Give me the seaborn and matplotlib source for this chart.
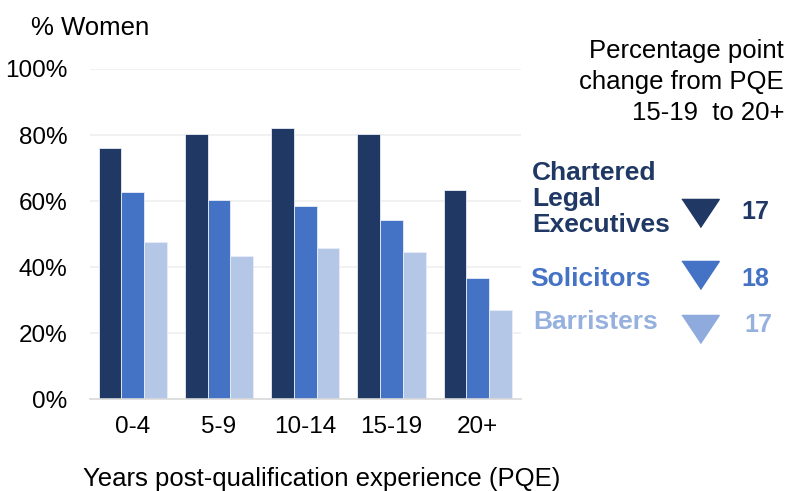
import matplotlib
matplotlib.use("Agg")
import matplotlib.pyplot as plt
import seaborn as sns
import pandas as pd

# values (% women)
pqe_bands = ["0-4", "5-9", "10-14", "15-19", "20+"]
professions = ["Chartered Legal Executives", "Solicitors", "Barristers"]
cilex_pct = [76.2, 80.4, 82.2, 80.4, 63.5]
solicitors_pct = [62.9, 60.4, 58.6, 54.4, 36.8]
barristers_pct = [47.7, 43.5, 45.9, 44.7, 27.1]
pp_change = [17, 18, 17]

bar_colours = ["#1F3864", "#4472C4", "#B4C7E7"]
marker_colours = ["#1F3864", "#4472C4", "#8FAADC"]
label_colours = ["#1F3864", "#4472C4", "#97B1DE"]

rows = []
for prof, vals in zip(professions, [cilex_pct, solicitors_pct, barristers_pct]):
    for band, v in zip(pqe_bands, vals):
        rows.append({"pqe": band, "profession": prof, "pct": v})
df = pd.DataFrame(rows)

sns.set_style("white")
plt.rcParams["font.family"] = ["Liberation Sans", "DejaVu Sans"]
plt.rcParams["text.color"] = "black"

fig = plt.figure(figsize=(7.91, 4.91), dpi=100)
ax = fig.add_axes([0.1134, 0.1868, 0.545, 0.6727])

sns.barplot(data=df, x="pqe", y="pct", hue="profession", hue_order=professions,
            order=pqe_bands, palette=bar_colours, saturation=1, width=0.79, ax=ax,
            edgecolor="#E8EDF7", linewidth=0.6, legend=False)

ax.set_ylim(0, 100)
ax.set_xlim(-0.5, 4.5)
ax.set_yticks([0, 20, 40, 60, 80, 100])
ax.set_yticklabels([f"{t}%" for t in [0, 20, 40, 60, 80, 100]])
ax.yaxis.grid(True, color="#EFEFEF", linewidth=1.2)
ax.set_axisbelow(True)
for s in ["top", "right", "left"]:
    ax.spines[s].set_visible(False)
ax.spines["bottom"].set_color("#D9D9D9")
ax.spines["bottom"].set_linewidth(1.2)
ax.tick_params(axis="both", length=0, labelsize=17.5, colors="black")
ax.tick_params(axis="y", pad=16)
ax.tick_params(axis="x", pad=12)
ax.set_xlabel("")
ax.set_ylabel("")

W, H = 791, 491


def fx(px):
    return px / W


def fy(py):
    return 1 - py / H


fig.text(fx(90), fy(28), "% Women", fontsize=18.5, ha="center", va="center")
fig.text(fx(322), fy(479), "Years post-qualification experience (PQE)",
         fontsize=18.5, ha="center", va="center")
fig.text(fx(784), fy(82), "Percentage point\nchange from PQE\n15-19  to 20+",
         fontsize=18.5, ha="right", va="center", linespacing=1.38)

# right-hand key: label, down triangle, change value
label_y = [199, 279, 322]
label_x = [532, 530, 533]
tri_y = [213, 275, 329]
num_y = [212, 279, 325]
num_x = [755, 755, 758]
tri = [(-1, 0.75), (1, 0.75), (0, -0.75)]
for i, prof in enumerate(professions):
    txt = prof.replace(" ", "\n") if i == 0 else prof
    fig.text(fx(label_x[i]), fy(label_y[i]), txt, fontsize=19, fontweight="bold",
             color=label_colours[i], ha="left", va="center", linespacing=1.1)
    fig.lines.append(plt.Line2D([fx(700)], [fy(tri_y[i])], transform=fig.transFigure,
                                marker=tri, markersize=27, color=marker_colours[i],
                                linestyle="none"))
    fig.text(fx(num_x[i]), fy(num_y[i]), str(pp_change[i]), fontsize=18,
             fontweight="bold", color=label_colours[i], ha="center", va="center")

fig.savefig("out.png", dpi=100)
